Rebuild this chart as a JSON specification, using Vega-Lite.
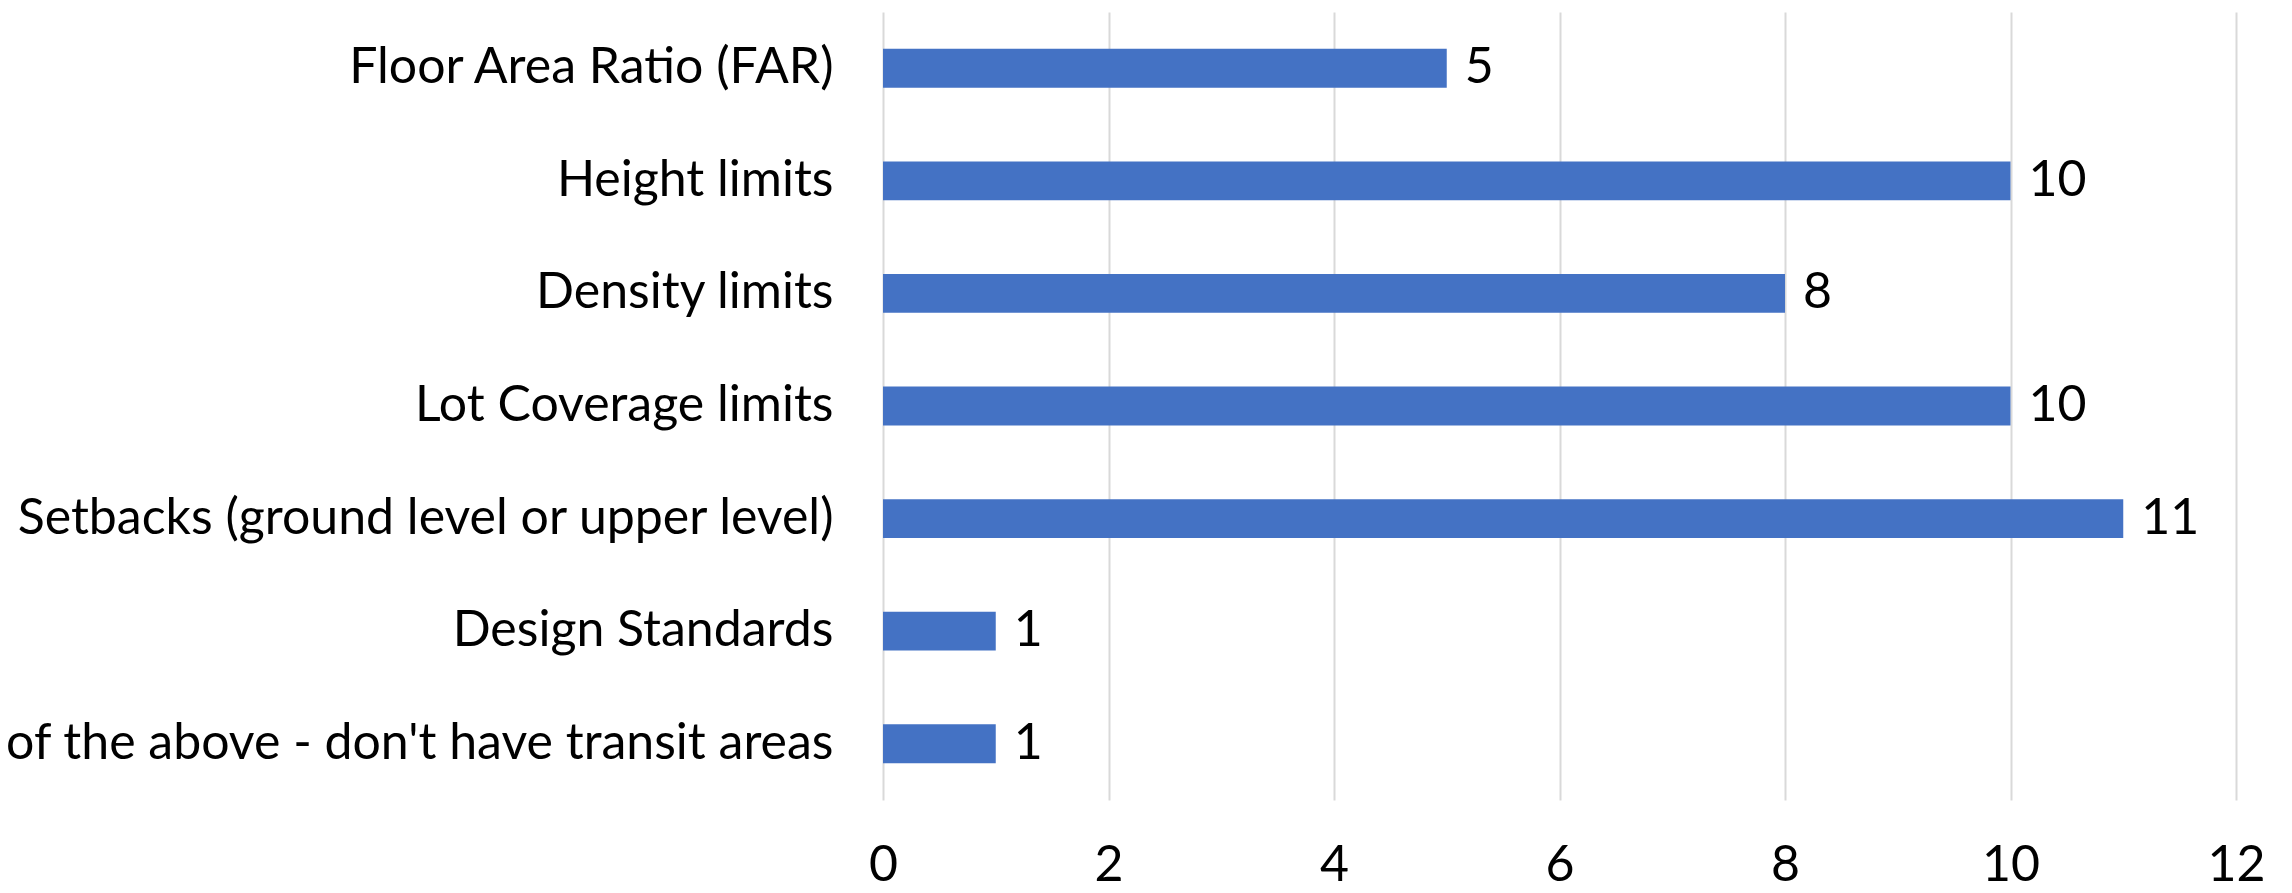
{
  "$schema": "https://vega.github.io/schema/vega-lite/v6.json",
  "width": 1353,
  "height": 788,
  "autosize": {"type": "none"},
  "padding": {"left": 883, "top": 12, "right": 56, "bottom": 93},
  "background": "white",
  "config": {
    "view": {"stroke": null},
    "font": "Lato",
    "axis": {"labelFont": "Lato", "labelColor": "#000000", "domain": false, "ticks": false}
  },
  "data": {
    "values": [
      {"category": "Floor Area Ratio (FAR)", "count": 5},
      {"category": "Height limits", "count": 10},
      {"category": "Density limits", "count": 8},
      {"category": "Lot Coverage limits", "count": 10},
      {"category": "Setbacks (ground level or upper level)", "count": 11},
      {"category": "Design Standards", "count": 1},
      {"category": "None of the above - don't have transit areas", "count": 1}
    ]
  },
  "encoding": {
    "y": {
      "field": "category",
      "type": "nominal",
      "sort": null,
      "title": null,
      "scale": {"paddingInner": 0.655, "paddingOuter": 0.3275},
      "axis": {"labelFontSize": 50, "labelPadding": 50, "labelLimit": 2000, "grid": false}
    },
    "x": {
      "field": "count",
      "type": "quantitative",
      "title": null,
      "scale": {"domain": [0, 12], "nice": false},
      "axis": {
        "values": [0, 2, 4, 6, 8, 10, 12],
        "labelFontSize": 50,
        "labelPadding": 40,
        "grid": true,
        "gridColor": "#d9d9d9",
        "gridWidth": 2,
        "labelFlush": false
      }
    }
  },
  "layer": [
    {"mark": {"type": "bar", "color": "#4472C4"}},
    {
      "mark": {"type": "text", "align": "left", "baseline": "middle", "dx": 18, "fontSize": 50, "font": "Lato", "color": "#000000"},
      "encoding": {"text": {"field": "count", "type": "quantitative"}}
    }
  ]
}
